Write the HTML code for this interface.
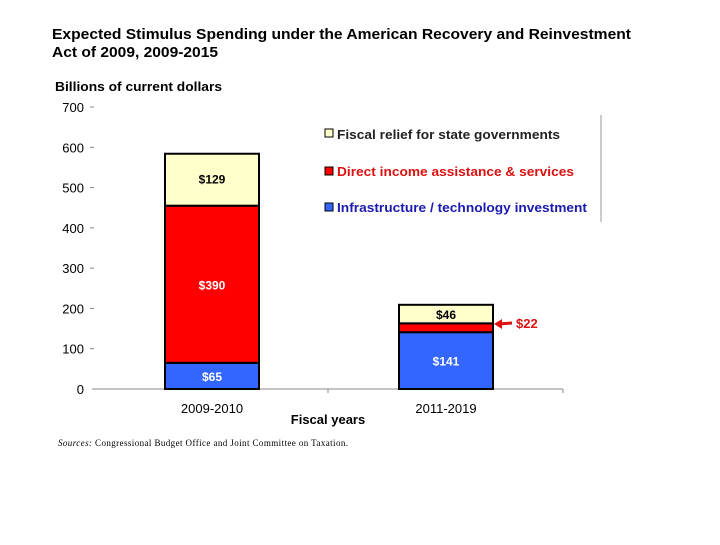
<!DOCTYPE html>
<html><head><meta charset="utf-8"><style>
body{margin:0;background:#fff;width:720px;height:540px;overflow:hidden;font-family:"Liberation Sans",Arial,sans-serif}
</style></head><body>
<svg width="720" height="540" font-family="Liberation Sans, Arial, sans-serif">
<text x="52" y="39" font-size="15" font-weight="bold" textLength="579" lengthAdjust="spacingAndGlyphs">Expected Stimulus Spending under the American Recovery and Reinvestment</text>
<text x="52" y="57" font-size="15" font-weight="bold" textLength="166" lengthAdjust="spacingAndGlyphs">Act of 2009, 2009-2015</text>
<text x="55" y="91" font-size="13" font-weight="bold" textLength="167" lengthAdjust="spacingAndGlyphs">Billions of current dollars</text>
<g id="axes"></g><g id="bars"></g>
<text x="328" y="424" font-size="13" font-weight="bold" text-anchor="middle">Fiscal years</text>
<text x="58" y="446" font-size="9" font-family="Liberation Serif, serif" textLength="290"><tspan font-style="italic">Sources:</tspan>  Congressional Budget Office and Joint Committee on Taxation.</text>
<line x1="601" y1="115" x2="601" y2="222" stroke="#999"/>
<g font-size="13" font-weight="bold">
<rect x="325" y="129" width="8" height="8" fill="#ffffcc" stroke="#000"/>
<text x="337" y="139" fill="#222" textLength="223" lengthAdjust="spacingAndGlyphs">Fiscal relief for state governments</text>
<rect x="325" y="167" width="8" height="8" fill="#ff0000" stroke="#000"/>
<text x="337" y="176" fill="#dd1111" textLength="237" lengthAdjust="spacingAndGlyphs">Direct income assistance &amp; services</text>
<rect x="325" y="203" width="8" height="8" fill="#3366ff" stroke="#000"/>
<text x="337" y="212" fill="#1a1ab0" textLength="250" lengthAdjust="spacingAndGlyphs">Infrastructure / technology investment</text>
</g>
<g>
<line x1="498" y1="324" x2="512" y2="323" stroke="#dd1111" stroke-width="3"/>
<polygon points="494,324 502,319 502,329" fill="#dd1111"/>
<text x="516" y="328" font-size="13" font-weight="bold" fill="#dd1111">$22</text>
</g>
</svg>
<script>
const categories=["2009-2010","2011-2019"];
const infra=[65,141];
const direct=[390,22];
const fiscal=[129,46];
const yTicks=[0,100,200,300,400,500,600,700];
const NS="http://www.w3.org/2000/svg";
const y0=389, pxPer=282/700;
function y(v){return y0-v*pxPer;}
const barX=[165,399], barW=94;
function mk(t,a,p){const e=document.createElementNS(NS,t);for(const k in a)e.setAttribute(k,a[k]);p.appendChild(e);return e;}
const ax=document.getElementById('axes'), bars=document.getElementById('bars');
yTicks.forEach(t=>{
  const tx=mk('text',{x:84,y:y(t)+5,'font-size':13,'text-anchor':'end'},ax);tx.textContent=t;
  
  
  if(t>0){const l=mk('line',{x1:90,x2:94,y1:y(t),y2:y(t),stroke:'#888'},ax);
  
  }
});
const axl=mk('line',{x1:92,x2:563,y1:y0,y2:y0,stroke:'#888'},ax);


[328,563].forEach(x=>{const l=mk('line',{x1:x,x2:x,y1:y0,y2:y0+4,stroke:'#888'},ax);

});
const series=[{d:infra,c:'#3366ff',tc:'#fff',n:'infra'},{d:direct,c:'#ff0000',tc:'#fff',n:'direct'},{d:fiscal,c:'#ffffcc',tc:'#000',n:'fiscal'}];
categories.forEach((cat,i)=>{
  let base=0;
  series.forEach(s=>{
    const v=s.d[i];
    const r=mk('rect',{x:barX[i],y:y(base+v),width:barW,height:v*pxPer,fill:s.c,stroke:'#000','stroke-width':2},bars);
    
    
    if(!(s.n==='direct'&&v<30)){
      let ly=y(base+v/2)+5;
      if(s.n==='infra'&&i===0) ly=y(base)-8;
      if(s.n==='fiscal'&&i===0) ly=y(base+v)+30;
      const t=mk('text',{x:barX[i]+barW/2,y:ly,'font-size':12,'font-weight':'bold','text-anchor':'middle',fill:s.tc},bars);
      t.textContent='$'+v;
      
      
    }
    base+=v;
  });
  const ct=mk('text',{x:barX[i]+barW/2,y:413,'font-size':13,'text-anchor':'middle'},bars);
  ct.textContent=cat;
  
  
});
</script>
</body></html>
